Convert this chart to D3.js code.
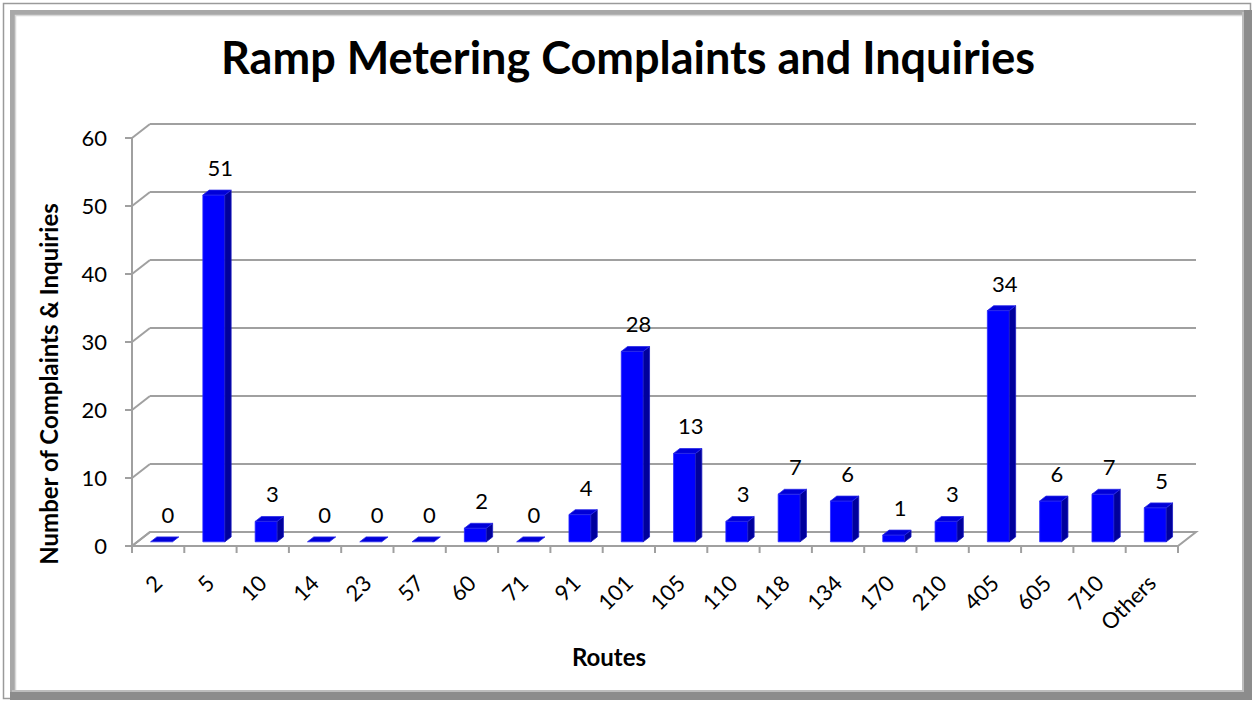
<!DOCTYPE html>
<html>
<head>
<meta charset="utf-8">
<script src="https://cdn.jsdelivr.net/npm/d3@7"></script>
<style>
  body { margin: 0; background: #fff; }
  text { font-family: Lato, "Open Sans", sans-serif; fill: #000; }
</style>
</head>
<body>
<script>
const routes = ["2", "5", "10", "14", "23", "57", "60", "71", "91", "101", "105", "110", "118", "134", "170", "210", "405", "605", "710", "Others"];
const counts = [0, 51, 3, 0, 0, 0, 2, 0, 4, 28, 13, 3, 7, 6, 1, 3, 34, 6, 7, 5];
const yTicks = [0, 10, 20, 30, 40, 50, 60];

const W = 1254, H = 702;
const DX = 18, DY = 14;          // depth offset of the back wall
const Z0 = 0.3, Z1 = 0.65;       // bar depth inside the floor

const svg = d3.select('body').append('svg')
  .attr('width', W)
  .attr('height', H);

// frame
svg.append('rect').attr('x', 0).attr('y', 0).attr('width', W).attr('height', H).attr('fill', '#fff');
svg.append('rect').attr('x', 3.5).attr('y', 3.5).attr('width', W - 7).attr('height', H - 7)
  .attr('fill', 'none').attr('stroke', '#9a9a9a').attr('stroke-width', 1.5);
svg.append('rect').attr('x', 12.5).attr('y', 12.5).attr('width', W - 20).attr('height', H - 20)
  .attr('fill', 'none').attr('stroke', '#a8a8a8').attr('stroke-width', 5);
svg.append('rect').attr('x', 15.5).attr('y', 15.5).attr('width', W - 26).attr('height', H - 26)
  .attr('fill', 'none').attr('stroke', '#d8d8d8').attr('stroke-width', 1.5);
// darker shadow on right/bottom
svg.append('rect').attr('x', W - 10).attr('y', 10).attr('width', 8).attr('height', H - 12).attr('fill', '#8c8c8c');
svg.append('rect').attr('x', 10).attr('y', H - 10).attr('width', W - 12).attr('height', 8).attr('fill', '#8c8c8c');
svg.append('rect').attr('x', W - 12).attr('y', 12).attr('width', 2).attr('height', H - 22).attr('fill', '#bdbdbd');
svg.append('rect').attr('x', 12).attr('y', H - 12).attr('width', W - 22).attr('height', 2).attr('fill', '#bdbdbd');

// scales (front plane)
const x = d3.scaleBand().domain(routes).range([132, 1178]).paddingInner(0).paddingOuter(0);
const y = d3.scaleLinear().domain([0, 60]).range([546, 138]);
const P = (px, v, z) => [px + z * DX, y(v) - z * DY];

const grid = svg.append('g').attr('stroke', '#a0a0a0').attr('stroke-width', 2).attr('fill', 'none');
const x0 = x.range()[0], x1 = x.range()[1];

// back wall gridlines and side wall diagonals
yTicks.forEach(v => {
  const b0 = P(x0, v, 1), b1 = P(x1, v, 1), f0 = P(x0, v, 0);
  grid.append('line').attr('x1', b0[0]).attr('y1', b0[1]).attr('x2', b1[0]).attr('y2', b1[1]);
  grid.append('line').attr('x1', f0[0]).attr('y1', f0[1]).attr('x2', b0[0]).attr('y2', b0[1]);
  grid.append('line').attr('x1', f0[0] - 7).attr('y1', f0[1]).attr('x2', f0[0]).attr('y2', f0[1]);
});
// y axis line
grid.append('line').attr('x1', x0).attr('y1', y(0)).attr('x2', x0).attr('y2', y(60));
// floor
const fl = [P(x0, 0, 0), P(x1, 0, 0), P(x1, 0, 1), P(x0, 0, 1)];
grid.append('path').attr('d', d3.line()(fl) + 'Z');
// category ticks
routes.concat(['__end']).forEach(r => {
  const px = r === '__end' ? x1 : x(r);
  grid.append('line').attr('x1', px).attr('y1', y(0)).attr('x2', px).attr('y2', y(0) + 7);
});

// y tick labels
svg.append('g').selectAll('text').data(yTicks).join('text')
  .attr('x', 107).attr('y', d => y(d)).attr('dy', '0.36em')
  .attr('text-anchor', 'end').style('font-size', '22px')
  .text(d => d);

// bars
const bw = x.bandwidth() * 0.42;
const bars = svg.append('g');
routes.forEach((r, i) => {
  const v = counts[i];
  const l = x(r) + (x.bandwidth() - bw) / 2 - 2;
  const rr = l + bw;
  const g = bars.append('g');
  const front = [P(l, 0, Z0), P(rr, 0, Z0), P(rr, v, Z0), P(l, v, Z0)];
  const side = [P(rr, 0, Z0), P(rr, 0, Z1), P(rr, v, Z1), P(rr, v, Z0)];
  const top = [P(l, v, Z0), P(rr, v, Z0), P(rr, v, Z1), P(l, v, Z1)];
  if (v > 0) {
    g.append('path').attr('d', d3.line()(front) + 'Z').attr('fill', '#0000ff').attr('stroke', '#2a2aff').attr('stroke-width', 0.8);
    g.append('path').attr('d', d3.line()(side) + 'Z').attr('fill', '#00009c').attr('stroke', '#1a1ac0').attr('stroke-width', 0.8);
  }
  g.append('path').attr('d', d3.line()(top) + 'Z').attr('fill', '#0000d8').attr('stroke', '#2a2ae8').attr('stroke-width', 0.8);
  const c = P(l + bw / 2, v, Z1);
  svg.append('text').attr('x', c[0]).attr('y', c[1] - 22).attr('dy', '0.36em')
    .attr('text-anchor', 'middle').style('font-size', '22px').text(v);
});

// x tick labels
svg.append('g').selectAll('text').data(routes).join('text')
  .attr('transform', d => `translate(${x(d) + x.bandwidth() / 2},${y(0) + 33}) rotate(-45)`)
  .attr('text-anchor', 'end').attr('dy', '0.36em').style('font-size', '22px')
  .text(d => d);

// titles
svg.append('text').attr('x', 628).attr('y', 74).attr('text-anchor', 'middle')
  .style('font-size', '45px').style('font-weight', 'bold')
  .text('Ramp Metering Complaints and Inquiries');
svg.append('text').attr('x', 609).attr('y', 666).attr('text-anchor', 'middle')
  .style('font-size', '24px').style('font-weight', 'bold').text('Routes');
svg.append('text').attr('transform', 'translate(58,384) rotate(-90)').attr('text-anchor', 'middle')
  .style('font-size', '24px').style('font-weight', 'bold')
  .text('Number of Complaints & Inquiries');
</script>
</body>
</html>
